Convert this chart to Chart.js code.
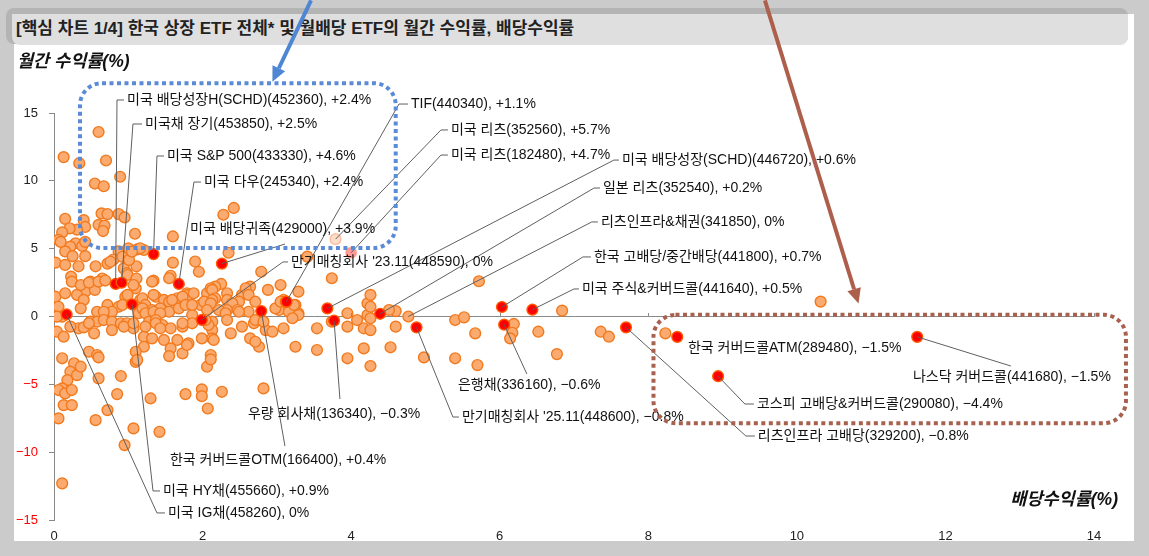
<!DOCTYPE html>
<html lang="ko">
<head>
<meta charset="utf-8">
<title>핵심 차트 1/4</title>
<script src="https://cdn.jsdelivr.net/npm/chart.js"></script>
<style>
  body { margin: 0; width: 1149px; height: 556px; background: #cbcbcb; overflow: hidden; position: relative;
         font-family: 'Liberation Sans', 'Noto Sans CJK KR', sans-serif; }
  #panel { position: absolute; left: 14px; top: 14px; width: 1120px; height: 527px; background: #fff; }
  #titleShadow { position: absolute; left: 6px; top: 8px; width: 1122px; height: 36px; background: #b4b4b4; border-radius: 8px; }
  #titleBox { position: absolute; left: 12px; top: 14px; width: 1116px; height: 31px; background: #dfdfdf; border-radius: 0 0 8px 8px; }
  #title { position: absolute; left: 16px; top: 19px; line-height: 20px; font-size: 17px; font-weight: bold; color: #222; white-space: nowrap; }
  #wrap { position: absolute; left: 0; top: 0; width: 1149px; height: 556px; }
</style>
</head>
<body>
<div id="panel"></div>
<div id="titleShadow"></div>
<div id="titleBox"></div>
<div id="title">[핵심 차트 1/4] 한국 상장 ETF 전체* 및 월배당 ETF의 월간 수익률, 배당수익률</div>
<div id="wrap"><canvas id="chart" width="1149" height="556"></canvas></div>
<script>
// 전체 ETF: 배당수익률(%) / 월간 수익률(%) - 그림에서 읽은 값
const allYield = [
  0.60, 0.13, 0.34, 0.70, 0.89, 0.55, 0.67, 2.42, 2.28,
  0.64, 0.72, 0.87, 0.95, 0.15, 0.40, 0.42, 0.31, 0.60, 0.68, 0.66, 0.21, 0.11, 1.09, 1.60,
  0.06, 0.29, 0.38, 0.22, 0.15, 0.25, 0.42, 1.12, 1.21, 0.87, 2.35, 0.09, 0.42, 1.00, 1.16,
  0.02, 0.15, 0.33, 0.56, 0.72, 0.80, 0.92, 0.94, 1.11, 1.60, 1.90, 1.01, 1.05, 0.76, 0.98, 1.95,
  0.23, 0.49, 0.65, 0.99, 1.11, 1.34, 1.57, 1.55, 2.79, 2.25, 3.05, 2.64, 2.17,
  0.38, 0.42, 0.31, 0.02, 0.15, 0.55, 1.10, 1.79, 2.88, 2.58, 2.53, 2.33, 2.06,
  0.24, 0.36, 0.47, 0.60, 0.69, 1.07, 1.32, 2.11, 2.58,
  0.96, 1.16, 1.37, 1.48, 1.55, 1.66, 1.81, 1.88, 2.13, 2.17, 0.40,
  0.99, 1.19, 1.34, 1.59, 1.73, 1.97, 2.13, 2.33, 2.49, 2.62, 2.71, 3.03, 3.09, 3.29,
  2.02, 2.11, 2.40, 2.33, 2.47, 2.62, 2.98, 3.05, 3.29, 3.25, 2.06, 3.74, 3.41, 3.29,
  0.36, 0.72, 0.87, 0.58, 0.78, 1.23, 1.32, 1.43, 1.55, 1.68, 1.77, 1.86, 1.14,
  0.06, 0.11, 0.67, 0.92, 1.19, 1.23, 1.34, 1.43, 1.86, 2.22, 2.31, 2.49, 3.16,
  2.13, 0.04, 0.49, 0.58, 0.67, 0.78, 0.90, 0.98, 1.28, 1.37, 1.46, 1.57, 1.73, 1.86,
  0.04, 0.13, 0.33, 0.40, 0.54, 0.78, 1.07, 1.21, 1.32, 1.48, 1.66, 1.81, 1.21, 1.10, 0.47, 0.58, 0.11, 1.73, 2.11, 2.13, 2.13,
  0.22, 0.47, 0.94, 1.07, 1.23, 1.37, 1.43, 1.73, 2.08, 2.33, 2.38, 2.53, 2.69, 2.85, 2.94, 3.09,
  1.99, 2.15, 2.64, 2.76, 3.25,
  2.04, 2.71, 2.82, 3.54, 3.95, 4.22, 4.22, 4.08, 3.95, 4.17, 3.74, 3.54, 4.17, 3.95, 2.71,
  5.72, 4.60, 4.51, 4.26, 3.23, 3.12, 5.40, 5.52, 5.67, 6.19, 6.17, 6.14, 6.52, 6.84, 7.36, 7.47, 6.77, 5.40, 5.70, 4.98, 4.60, 4.26, 4.26, 4.53, 8.23, 3.21, 4.26, 4.26, 10.32,
  0.27, 0.22, 0.31, 0.18, 0.11, 0.06, 0.15, 0.24, 0.13, 0.24, 0.06, 0.11,
  0.60, 0.60, 0.56, 0.72, 0.85, 0.90, 0.95, 1.07, 1.10, 1.30, 1.42, 1.77, 1.99, 1.99, 2.07, 2.06, 2.11, 1.57, 1.55, 1.79, 2.26, 2.82, 0.36, 1.12
];
const allReturn = [
  13.6, 11.75, 11.3, 11.5, 10.3, 9.8, 9.6, 8.0, 7.5,
  7.6, 7.55, 7.55, 7.3, 7.2, 7.1, 6.6, 6.4, 6.75, 6.7, 6.3, 6.5, 6.2, 6.1, 5.9,
  5.65, 5.4, 5.2, 5.15, 4.8, 4.45, 4.45, 4.95, 4.9, 4.8, 4.7, 5.5, 5.5, 5.03, 5.03,
  3.97, 3.8, 3.7, 3.7, 3.9, 4.2, 4.4, 3.55, 3.7, 3.97, 4.05, 4.17, 4.78, 4.04, 3.19, 3.3,
  2.94, 2.57, 2.8, 3.06, 2.8, 2.64, 3.0, 2.82, 3.3, 2.4, 2.32, 2.2, 2.2,
  2.2, 1.83, 1.59, 1.46, 1.71, 1.96, 2.08, 1.71, 1.96, 1.71, 1.59, 1.71, 1.71,
  2.57, 2.32, 2.5, 2.57, 2.65, 2.32, 2.57, 2.08, 2.08,
  1.46, 1.22, 1.46, 1.22, 1.09, 1.34, 1.59, 1.71, 1.96, 1.34, 1.22,
  1.59, 1.34, 1.59, 1.22, 1.46, 0.85, 1.22, 1.22, 1.09, 1.59, 1.09, 0.48, 1.22, 0.24,
  1.09, 0.97, 0.97, 0.48, 0.48, 0.35, 0.6, 1.09, 0.11, 0.85, 0.48, 2.82, 4.41, 1.83,
  0.6, 0.85, 0.72, 0.35, 0.35, 0.85, 0.48, 0.6, 0.35, 0.6, 0.85, 0.11, 0.24,
  0.72, -0.01, 0.35, 0.85, 0.6, 0.24, 0.35, 0.24, 0.85, 0.48, 0.24, 0.35, 0.35,
  -0.38, -0.01, -0.38, -0.38, -0.26, -0.38, -0.5, -0.5, -0.38, -0.26, -0.63, -0.87, -0.75, -0.5,
  -1.12, -1.49, -0.87, -0.8, -1.24, -1.0, -0.87, -1.49, -1.61, -1.73, -1.73, -1.98, -2.23, -2.6, -2.6, -2.84, -3.08, -2.72, -2.84, -1.0, -1.61,
  -0.75, -0.5, -0.75, -0.5, -0.75, -0.5, -0.87, -0.5, -0.63, -0.26, -1.24, -0.75, -0.5, -1.0, -1.12, -0.87,
  -1.61, -1.73, -1.61, -2.23, -2.23,
  -0.26, -0.26, -0.38, -0.87, 0.24, 0.97, 0.11, -0.26, -0.75, -0.87, -0.38, -2.47, -2.35, -3.08, -1.86,
  2.6, 0.4, 0.48, -0.13, 0.85, 1.09, -0.26, -0.06, -1.24, -0.55, -1.2, -1.61, -1.12, 0.43, -1.12, -1.49, -2.77, -3.08, -3.58, -3.01, -0.75, -1.0, -3.65, -2.27, -1.24, -0.13, 1.59, 0.72, 1.1,
  -3.45, -4.07, -4.32, -4.69, -5.3, -5.42, -5.67, -5.42, -6.53, -6.53, -7.51, -12.3,
  -3.01, -4.56, -7.64, -6.9, -5.72, -4.39, -9.48, -8.25, -3.34, -6.04, -8.5, -5.72, -5.37, -5.87, -6.78, -3.7, -3.16, -2.35, -2.92, -2.1, -5.55, -5.3, -3.7, -3.2
];

// 월배당 ETF (강조 표시)
const hlNames = [
  '미국 배당성장H(SCHD)(452360), +2.4%',
  '미국채 장기(453850), +2.5%',
  '미국 S&P 500(433330), +4.6%',
  '미국 다우(245340), +2.4%',
  '미국 배당귀족(429000), +3.9%',
  'TIF(440340), +1.1%',
  '미국 리츠(352560), +5.7%',
  '미국 리츠(182480), +4.7%',
  '미국 배당성장(SCHD)(446720), +0.6%',
  '일본 리츠(352540), +0.2%',
  '리츠인프라&채권(341850), 0%',
  '한국 고배당/중간배당(441800), +0.7%',
  '미국 주식&커버드콜(441640), +0.5%',
  '만기매칭회사 \'23.11(448590), 0%',
  '한국 커버드콜OTM(166400), +0.4%',
  '우량 회사채(136340), −0.3%',
  '만기매칭회사 \'25.11(448600), −0.8%',
  '은행채(336160), −0.6%',
  '리츠인프라 고배당(329200), −0.8%',
  '한국 커버드콜ATM(289480), −1.5%',
  '나스닥 커버드콜(441680), −1.5%',
  '코스피 고배당&커버드콜(290080), −4.4%',
  '미국 HY채(455660), +0.9%',
  '미국 IG채(458260), 0%'
];
const hlYield  = [0.83, 0.91, 1.34, 1.68, 2.26, 3.13, 3.79, 4.00, 3.68, 4.39, 4.77, 6.03, 6.44, 1.99, 2.79, 3.77, 4.88, 6.06, 7.70, 8.39, 11.62, 8.94, 1.05, 0.17];
const hlReturn = [2.4, 2.5, 4.6, 2.4, 3.9, 1.1, 5.7, 4.7, 0.6, 0.2, 0.0, 0.7, 0.5, -0.25, 0.4, -0.3, -0.8, -0.6, -0.8, -1.5, -1.5, -4.4, 0.9, 0.15];

const xTicks = { min: 0, max: 14, step: 2 };
const yTicks = { min: -15, max: 15, step: 5 };

// 라벨 배치 (축 단위): 글자 왼쪽/가운데, 지시선 꺾임점
const labelAt = [
  [0.983, 15.96], [1.225, 14.19], [1.521, 11.83], [2.019, 9.91], [1.831, 6.45],
  [4.805, 15.66], [5.343, 13.75], [5.343, 11.9], [7.645, 11.53], [7.39, 9.47],
  [7.362, 6.97], [7.268, 4.39], [7.107, 2.03], [3.19, 4.02], [1.561, -10.58],
  [2.611, -7.19], [5.491, -7.41], [5.438, -5.05], [9.475, -8.81], [8.533, -2.32],
  [11.562, -4.46], [9.462, -6.45], [1.467, -12.86], [1.534, -14.48]
];
const bendAt = [
  [0.848, 15.96], [1.063, 14.19], [1.386, 11.83], [1.884, 9.91], [3.109, 5.34],
  [4.644, 15.66], [5.209, 13.75], [5.209, 11.9], [7.537, 11.53], [7.27, 9.47],
  [7.24, 6.97], [7.12, 4.39], [7.0, 2.03], [3.082, 4.02], [3.109, -9.55],
  [3.849, -6.08], [5.37, -7.41], [6.366, -4.24], [9.314, -8.81], null,
  [12.881, -3.65], [9.3, -6.45], [1.333, -12.86], [1.386, -14.48]
];

// 점선 상자, 화살표 (축 단위)
const blueBox = [0.35, 17.2, 4.6, 5.05];
const brownBox = [8.07, 0.12, 14.43, -7.86];
const blueArrow = [3.46, 23.3, 2.94, 17.3];
const brownArrow = [9.57, 23.3, 10.83, 0.95];

const fontFam = "'Liberation Sans', 'Noto Sans CJK KR', sans-serif";
const ORANGE = '#fbab70', ORANGE_EDGE = '#f27a1e', RED = '#ff0000', RED_EDGE = '#ff5a00';

const hlFill = hlNames.map(n => {
  if (n.startsWith('리츠인프라&채권')) return ORANGE;
  if (n.startsWith('미국 리츠(352560)')) return 'rgba(251,200,170,0.6)';
  if (n.startsWith('미국 리츠(182480)')) return 'rgba(255,90,90,0.6)';
  return RED;
});
const hlEdge = hlNames.map(n => {
  if (n.startsWith('리츠인프라&채권')) return ORANGE_EDGE;
  if (n.startsWith('미국 리츠')) return 'rgba(255,140,90,0.5)';
  return RED_EDGE;
});

function drawDotBox(ctx, x1, y1, x2, y2, r, color) {
  ctx.save();
  ctx.strokeStyle = color;
  ctx.lineWidth = 4;
  ctx.setLineDash([4, 3.5]);
  ctx.beginPath();
  ctx.roundRect(Math.min(x1, x2), Math.min(y1, y2), Math.abs(x2 - x1), Math.abs(y2 - y1), r);
  ctx.stroke();
  ctx.restore();
}

function drawArrow(ctx, x1, y1, x2, y2, color) {
  const ang = Math.atan2(y2 - y1, x2 - x1);
  const head = 15, half = 7;
  const bx = x2 - head * Math.cos(ang), by = y2 - head * Math.sin(ang);
  ctx.save();
  ctx.strokeStyle = color;
  ctx.fillStyle = color;
  ctx.lineWidth = 4;
  ctx.beginPath();
  ctx.moveTo(x1, y1);
  ctx.lineTo(bx, by);
  ctx.stroke();
  ctx.beginPath();
  ctx.moveTo(x2, y2);
  ctx.lineTo(bx + half * Math.sin(ang), by - half * Math.cos(ang));
  ctx.lineTo(bx - half * Math.sin(ang), by + half * Math.cos(ang));
  ctx.closePath();
  ctx.fill();
  ctx.restore();
}

const decor = {
  id: 'decor',
  afterDatasetsDraw(chart) {
    const { ctx, chartArea: a } = chart;
    const sx = chart.scales.x, sy = chart.scales.y;
    const px = v => sx.getPixelForValue(v), py = v => sy.getPixelForValue(v);
    ctx.save();

    // 0선 위의 x축 눈금
    ctx.strokeStyle = '#8a8a8a';
    ctx.lineWidth = 1;
    sx.ticks.forEach(t => {
      if (t.value === 0) return;
      const x = Math.round(px(t.value)) + 0.5;
      ctx.beginPath();
      ctx.moveTo(x, Math.round(py(0)));
      ctx.lineTo(x, Math.round(py(0)) - 4);
      ctx.stroke();
    });

    // 지시선
    ctx.font = '14px ' + fontFam;
    ctx.strokeStyle = '#5f5f5f';
    ctx.lineWidth = 1;
    hlNames.forEach((name, i) => {
      const b = bendAt[i];
      if (!b) return;
      const x0 = px(hlYield[i]), y0 = py(hlReturn[i]);
      const bx = px(b[0]), by = py(b[1]);
      const tx = px(labelAt[i][0]), ty = py(labelAt[i][1]);
      ctx.beginPath();
      ctx.moveTo(x0, y0);
      ctx.lineTo(bx, by);
      if (Math.abs(by - ty) < 1 && bx < tx) ctx.lineTo(tx - 3, by);
      ctx.stroke();
    });

    // 라벨
    ctx.fillStyle = '#111';
    ctx.textBaseline = 'middle';
    ctx.textAlign = 'left';
    hlNames.forEach((name, i) => {
      ctx.fillText(name, px(labelAt[i][0]), py(labelAt[i][1]));
    });

    // 축 제목
    ctx.font = 'italic bold 17.5px ' + fontFam;
    ctx.fillStyle = '#111';
    ctx.fillText('월간 수익률(%)', a.left - 37, a.top - 51);
    ctx.textAlign = 'right';
    ctx.fillText('배당수익률(%)', a.right + 24, a.bottom - 20);

    // 점선 상자와 화살표
    drawDotBox(ctx, px(blueBox[0]), py(blueBox[1]), px(blueBox[2]), py(blueBox[3]), 22, '#5b8bd6');
    drawDotBox(ctx, px(brownBox[0]), py(brownBox[1]), px(brownBox[2]), py(brownBox[3]), 22, '#a8604f');
    drawArrow(ctx, px(blueArrow[0]), py(blueArrow[1]), px(blueArrow[2]), py(blueArrow[3]), '#4f86d4');
    drawArrow(ctx, px(brownArrow[0]), py(brownArrow[1]), px(brownArrow[2]), py(brownArrow[3]), '#ad5f4b');
    ctx.restore();
  }
};

new Chart(document.getElementById('chart'), {
  type: 'scatter',
  data: {
    datasets: [
      {
        label: '월배당 ETF',
        data: hlYield.map((x, i) => ({ x: x, y: hlReturn[i] })),
        pointRadius: 5.4,
        pointBackgroundColor: hlFill,
        pointBorderColor: hlEdge,
        pointBorderWidth: 1.4,
        order: 1
      },
      {
        label: '한국 상장 ETF 전체',
        data: allYield.map((x, i) => ({ x: x, y: allReturn[i] })),
        pointRadius: 5.4,
        pointBackgroundColor: ORANGE,
        pointBorderColor: ORANGE_EDGE,
        pointBorderWidth: 1.4,
        order: 2
      }
    ]
  },
  options: {
    responsive: false,
    animation: false,
    devicePixelRatio: 1,
    layout: { padding: { top: 113, right: 55, bottom: 0, left: 0 } },
    plugins: { legend: { display: false }, tooltip: { enabled: false } },
    scales: {
      x: {
        type: 'linear',
        min: xTicks.min, max: xTicks.max,
        border: { display: false },
        grid: { display: false, drawTicks: false },
        ticks: { stepSize: xTicks.step, padding: 9, color: '#222', font: { family: fontFam, size: 13 } },
        afterFit: s => { s.height = 36; }
      },
      y: {
        min: yTicks.min, max: yTicks.max,
        border: { display: true, color: '#8a8a8a' },
        grid: {
          color: c => (c.tick && c.tick.value === 0) ? '#8a8a8a' : 'rgba(0,0,0,0)',
          tickColor: '#8a8a8a',
          tickLength: 5
        },
        ticks: {
          stepSize: yTicks.step, padding: 11,
          color: c => (c.tick && c.tick.value < 0) ? '#ff0000' : '#222',
          font: { family: fontFam, size: 13 },
          callback: v => v < 0 ? '−' + Math.abs(v) : String(v)
        },
        afterFit: s => { s.width = 54; }
      }
    }
  },
  plugins: [decor]
});
</script>
</body>
</html>
